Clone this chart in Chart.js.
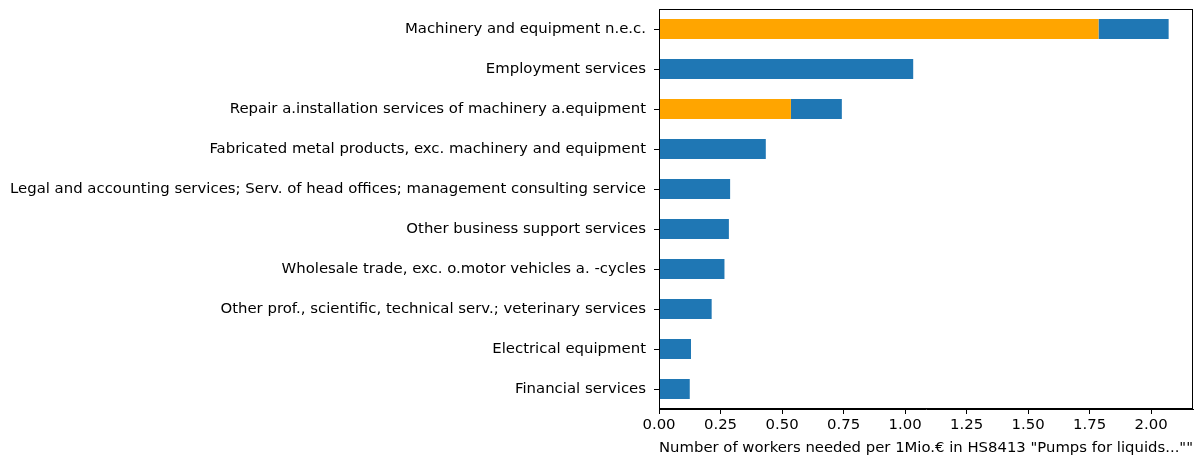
<!DOCTYPE html>
<html>
<head>
<meta charset="utf-8">
<script src="https://cdn.jsdelivr.net/npm/chart.js@4/dist/chart.umd.min.js"></script>
<style>
  body { margin: 0; background: #fff; }
  #wrap { width: 1198px; height: 457px; }
</style>
</head>
<body>
<div id="wrap"><canvas id="workersChart"></canvas></div>
<script>
// sectors, top to bottom
const sectors = [
  "Machinery and equipment n.e.c.",
  "Employment services",
  "Repair a.installation services of machinery a.equipment",
  "Fabricated metal products, exc. machinery and equipment",
  "Legal and accounting services; Serv. of head offices; management consulting service",
  "Other business support services",
  "Wholesale trade, exc. o.motor vehicles a. -cycles",
  "Other prof., scientific, technical serv.; veterinary services",
  "Electrical equipment",
  "Financial services"
];

// orange part of the bar
const orangePart = [1.786, 0, 0.536, 0, 0, 0, 0, 0, 0, 0];
// blue part, stacked after the orange one
const bluePart = [0.285, 1.033, 0.207, 0.434, 0.289, 0.284, 0.266, 0.214, 0.130, 0.125];

const xTicks = [0, 0.25, 0.5, 0.75, 1.0, 1.25, 1.5, 1.75, 2.0];
const xTitle = 'Number of workers needed per 1Mio.€ in HS8413 "Pumps for liquids...""';

const FONT = { family: "DejaVu Sans", size: 14.9 };

// draws the top and right spines
const framePlugin = {
  id: "frame",
  afterDraw(chart) {
    const a = chart.chartArea;
    const c = chart.ctx;
    c.save();
    c.strokeStyle = "#000";
    c.lineWidth = 1;
    c.strokeRect(a.left + 0.5, a.top + 0.5, a.right - a.left - 1, a.bottom - a.top - 1);
    c.restore();
  }
};

const ctx = document.getElementById("workersChart").getContext("2d");
new Chart(ctx, {
  type: "bar",
  data: {
    labels: sectors,
    datasets: [
      {
        label: "orange",
        data: orangePart,
        backgroundColor: "#ffa500",
        borderWidth: 0,
        barPercentage: 0.5,
        categoryPercentage: 1.0
      },
      {
        label: "blue",
        data: bluePart,
        backgroundColor: "#1f77b4",
        borderWidth: 0,
        barPercentage: 0.5,
        categoryPercentage: 1.0
      }
    ]
  },
  options: {
    indexAxis: "y",
    responsive: true,
    maintainAspectRatio: false,
    animation: false,
    layout: { padding: { left: 0, right: 5, top: 9, bottom: 0 } },
    plugins: {
      legend: { display: false },
      tooltip: { enabled: false }
    },
    scales: {
      x: {
        stacked: true,
        min: 0,
        max: 2.17,
        afterBuildTicks: scale => {
          scale.ticks = xTicks.map(v => ({ value: v }));
        },
        afterFit: scale => { scale.height = 48; },
        grid: { display: true, drawOnChartArea: false, drawTicks: true, tickLength: 5, color: "#000" },
        border: { display: true, color: "#000" },
        ticks: {
          color: "#000",
          font: FONT,
          padding: 2,
          maxRotation: 0,
          callback: v => Number(v).toFixed(2)
        },
        title: {
          display: true,
          text: xTitle,
          color: "#000",
          font: FONT,
          padding: { top: 2, bottom: 0 }
        }
      },
      y: {
        stacked: true,
        afterFit: scale => {
          scale.width = 659;
          scale.paddingTop = 0;
          scale.paddingBottom = 0;
        },
        grid: { display: true, offset: false, drawOnChartArea: false, drawTicks: true, tickLength: 5, color: "#000" },
        border: { display: true, color: "#000" },
        ticks: { color: "#000", font: FONT, padding: 8 }
      }
    }
  },
  plugins: [framePlugin]
});
</script>
</body>
</html>
